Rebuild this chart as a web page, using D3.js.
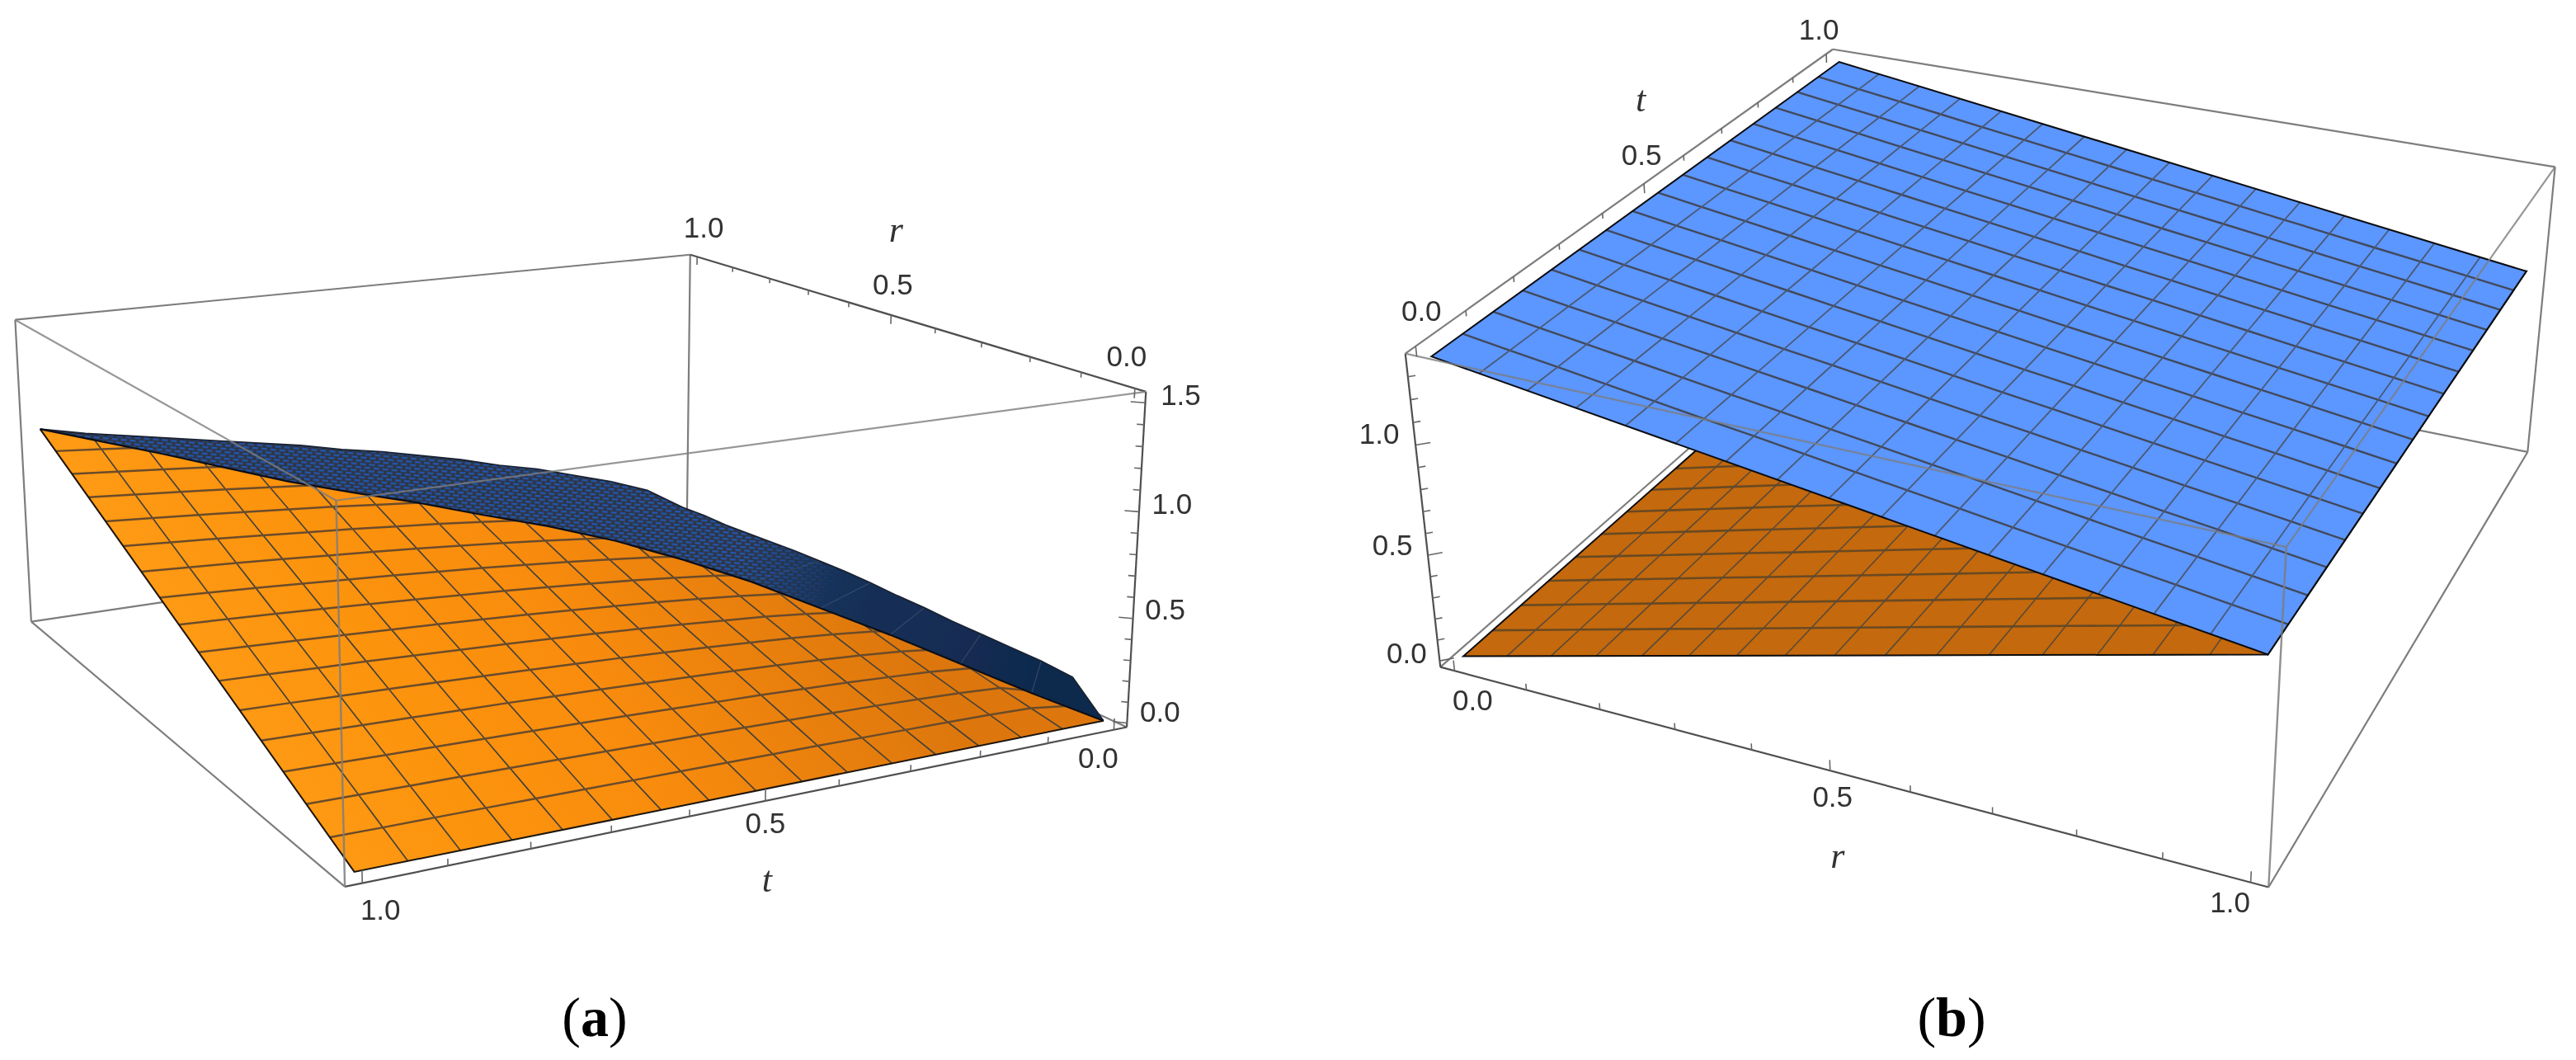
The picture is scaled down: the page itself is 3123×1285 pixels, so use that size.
<!DOCTYPE html>
<html><head><meta charset="utf-8">
<script src="https://cdnjs.cloudflare.com/ajax/libs/d3/7.8.5/d3.min.js"></script>
<style>html,body{margin:0;background:#fff}svg{display:block}</style></head>
<body><svg id="c" width="3123" height="1285"></svg>
<script>
const gridIdx=d3.range(17);
const gridVals=[0,.0625,.125,.1875,.25,.3125,.375,.4375,.5,.5625,.625,.6875,.75,.8125,.875,.9375,1];
const tickVals=[0,.1,.2,.3,.4,.5,.6,.7,.8,.9,1];
const zTicksA=[0,.1,.2,.3,.4,.5,.6,.7,.8,.9,1,1.1,1.2,1.3,1.4,1.5];
const zTicksB=[0,.1,.2,.3,.4,.5,.6,.7,.8,.9,1,1.1,1.2,1.3];
// panel (a): height where the two surfaces meet, on t = r
const contactA=[0,.10,.21,.32,.42,.52,.60,.665,.71,.74,.775,.80,.83,.875,.92,.96,1];
// panel (a): far edges of the dark surface
const edgeR1A=[.11,.24,.32,.385,.45,.50,.56,.61,.66,.70,.75,.79,.83,.87,.91,.95,1];
const edgeT0A=[0,.14,.15,.15,.15,.15,.155,.155,.16,.16,.155,.15,.14,.13,.12,.12,.11];
// panel (a): orange surface, rows by t, columns by r
const orangeA=[
[0,0,0,0,0,0,0,0,0,0,0,0,0,0,0,0,0],
[0,.027,.054,.082,.109,.136,.163,.19,.218,.245,.272,.299,.326,.353,.381,.408,.435],
[0,.034,.067,.101,.134,.168,.201,.235,.268,.302,.335,.369,.402,.436,.469,.503,.536],
[0,.038,.076,.113,.151,.189,.227,.265,.303,.34,.378,.416,.454,.492,.529,.567,.605],
[0,.041,.083,.124,.165,.206,.248,.289,.33,.371,.413,.454,.495,.536,.578,.619,.66],
[0,.044,.088,.132,.176,.22,.264,.308,.353,.397,.441,.485,.529,.573,.617,.661,.705],
[0,.047,.093,.14,.186,.233,.279,.326,.373,.419,.466,.512,.559,.605,.652,.698,.745],
[0,.049,.098,.146,.195,.244,.293,.341,.39,.439,.488,.536,.585,.634,.683,.731,.78],
[0,.051,.102,.152,.203,.254,.305,.355,.406,.457,.508,.558,.609,.66,.711,.761,.812],
[0,.053,.105,.158,.211,.263,.316,.368,.421,.474,.526,.579,.632,.684,.737,.789,.842],
[0,.054,.109,.163,.217,.271,.326,.38,.434,.488,.543,.597,.651,.705,.76,.814,.868],
[0,.056,.112,.168,.224,.279,.335,.391,.447,.503,.559,.615,.671,.726,.782,.838,.894],
[0,.057,.115,.172,.229,.287,.344,.401,.459,.516,.573,.63,.688,.745,.802,.86,.917],
[0,.059,.118,.176,.235,.294,.353,.411,.47,.529,.588,.646,.705,.764,.823,.881,.94],
[0,.06,.12,.18,.24,.3,.36,.42,.481,.541,.601,.661,.721,.781,.841,.901,.961],
[0,.061,.123,.184,.245,.307,.368,.429,.491,.552,.613,.674,.736,.797,.858,.92,.981],
[0,.063,.125,.188,.25,.313,.375,.438,.5,.563,.625,.688,.75,.813,.875,.938,1]];
// panel (b): both surfaces are flat in t, heights by r
const planeB=[1.37,1.341,1.313,1.284,1.255,1.226,1.198,1.169,1.14,1.111,1.083,1.054,1.025,.996,.968,.939,.91];
const brownB=[0,.057,.114,.171,.228,.284,.341,.398,.455,.512,.569,.626,.683,.739,.796,.853,.91];
// box corners as seen in the picture: box r, t, z (0..1) -> pixel, used to fit the camera
const cornersA=[[1,1,1,18,388],[1,0,1,837,309],[0,0,1,1389,474],[0,1,1,408,607],[1,1,0,38,753],[0,0,0,1366,882],[0,1,0,418,1075]];
const cornersB=[[0,0,1,1704,428],[0,1,1,2222,60],[1,1,1,3098,202],[1,0,1,2771,664],[0,0,0,1746,809],[1,0,0,2751,1075],[1,1,0,3064,548]];

function solve(corners){
  const rows=[],b=[];
  corners.forEach(([X,Y,Z,u0,v0])=>{const u=u0/1000,v=v0/1000;
    rows.push([X,Y,Z,1,0,0,0,0,-u*X,-u*Y,-u*Z]);b.push(u);
    rows.push([0,0,0,0,X,Y,Z,1,-v*X,-v*Y,-v*Z]);b.push(v);});
  const n=11,M=d3.range(n).map(i=>d3.range(n+1).map(j=>j<n?d3.sum(rows,(r)=>r[i]*r[j]):d3.sum(rows,(r,k)=>r[i]*b[k])));
  for(let c=0;c<n;c++){let p=c;for(let k=c+1;k<n;k++)if(Math.abs(M[k][c])>Math.abs(M[p][c]))p=k;
    [M[c],M[p]]=[M[p],M[c]];
    for(let k=0;k<n;k++)if(k!==c){const f=M[k][c]/M[c][c];for(let j=c;j<=n;j++)M[k][j]-=f*M[c][j];}}
  return M.map((r,i)=>r[n]/r[i]);
}
function camera(corners,zDom){
  const p=solve(corners),rS=d3.scaleLinear([-.02,1.02],[0,1]),tS=d3.scaleLinear([-.02,1.02],[0,1]),zS=d3.scaleLinear(zDom,[0,1]);
  return (r,t,z)=>{const X=rS(r),Y=tS(t),Z=zS(z),w=p[8]*X+p[9]*Y+p[10]*Z+1;
    return [1000*(p[0]*X+p[1]*Y+p[2]*Z+p[3])/w,1000*(p[4]*X+p[5]*Y+p[6]*Z+p[7])/w];};
}
const svg=d3.select('#c');
const defs=svg.append('defs');
defs.append('filter').attr('id','soft').attr('x','-5%').attr('y','-5%').attr('width','110%').attr('height','110%').append('feGaussianBlur').attr('stdDeviation',.7);
function grad(id,x1,y1,x2,y2,stops){const g=defs.append('linearGradient').attr('id',id).attr('gradientUnits','userSpaceOnUse').attr('x1',x1).attr('y1',y1).attr('x2',x2).attr('y2',y2);
  stops.forEach(([o,c])=>g.append('stop').attr('offset',o).attr('stop-color',c));}
grad('orange',350,1050,1020,650,[[0,'#ff9b12'],[.55,'#f98c10'],[1,'#dd7709']]);
grad('navy',300,500,1300,800,[[0,'#2a4674'],[.5,'#24406e'],[.72,'#153058'],[1,'#10294d']]);
grad('fade',300,500,1300,800,[[0,'#fff'],[.6,'#fff'],[.72,'#000'],[1,'#000']]);
const pat=defs.append('pattern').attr('id','speck').attr('patternUnits','userSpaceOnUse').attr('width',11).attr('height',8).attr('patternTransform','rotate(5)');
pat.append('rect').attr('width',11).attr('height',8).attr('fill','#2d3644');
pat.append('rect').attr('x',0).attr('y',1).attr('width',7).attr('height',2.4).attr('fill','#2455ae');
pat.append('rect').attr('x',5.5).attr('y',5).attr('width',7).attr('height',2.4).attr('fill','#2455ae');
pat.append('rect').attr('x',-5.5).attr('y',5).attr('width',7).attr('height',2.4).attr('fill','#2455ae');
defs.append('mask').attr('id','fadeMask').attr('maskUnits','userSpaceOnUse').attr('x',0).attr('y',0).attr('width',1600).attr('height',1285).append('rect').attr('width',1600).attr('height',1285).attr('fill','url(#fade)');

const line=d3.line(),poly=pts=>line(pts)+'Z';
const boxGray='#7d7d7d',axisGray='#4f4f4f';
function seg(g,P,a,b,col,w,op){const pa=P(...a),pb=P(...b);g.append('path').attr('d',line([pa,pb])).attr('fill','none').attr('stroke',col).attr('stroke-width',w).attr('opacity',op||1);}
function label(g,p,off,txt,opts={}){g.append('text').attr('x',p[0]+off[0]).attr('y',p[1]+off[1]).attr('text-anchor','middle').attr('dominant-baseline','central')
  .attr('font-family',opts.family||'Liberation Sans').attr('font-style',opts.style||'normal').attr('font-size',opts.size||35).attr('fill','#333').text(txt);}
function ticks(g,P,vals,fn,majors){vals.forEach(v=>{const m=majors.some(q=>Math.abs(q-v)<1e-9);const [a,b]=fn(v,m);
  g.append('path').attr('d',line([P(...a),P(...b)])).attr('stroke','#666').attr('stroke-width',1.6).attr('fill','none');});}

// ---------- panel a
(function(){
  const P=camera(cornersA,[-.02,1.55]),g=svg.append('g').attr('filter','url(#soft)');
  const L=-.02,H=1.02,zl=-.02,zh=1.55;
  seg(g,P,[H,L,zh],[H,L,zl],boxGray,2.2);
  seg(g,P,[H,H,zl],[H,L,zl],boxGray,2.2);
  seg(g,P,[H,L,zl],[L,L,zl],boxGray,2.2);
  const contact=gridIdx.map(i=>P(gridVals[i],gridVals[i],contactA[i]));
  // orange, clipped at the contact curve
  const op=(i,j)=>P(gridVals[j],gridVals[i],orangeA[i][j]);
  const clipPts=[...contact,op(16,0)];
  defs.append('clipPath').attr('id','oClip').append('path').attr('d',poly(clipPts));
  const og=g.append('g').attr('clip-path','url(#oClip)');
  const cellsO=[];
  for(let i=0;i<16;i++)for(let j=0;j<16;j++)cellsO.push([op(i,j),op(i,j+1),op(i+1,j+1),op(i+1,j)]);
  og.append('g').selectAll('path').data(cellsO).join('path').attr('d',poly).attr('fill','url(#orange)').attr('stroke','url(#orange)').attr('stroke-width',.8);
  gridIdx.slice(1,16).forEach(i=>og.append('path').attr('d',line(gridIdx.map(j=>op(i,j)))).attr('fill','none').attr('stroke','#4a4238').attr('stroke-width',1.7));
  gridIdx.slice(1,16).forEach(j=>og.append('path').attr('d',line(gridIdx.map(i=>op(i,j)))).attr('fill','none').attr('stroke','#6b4c2a').attr('stroke-width',2.5));
  g.append('path').attr('d',line([op(16,16),op(16,0),op(0,0)])).attr('fill','none').attr('stroke','#1c130a').attr('stroke-width',2);
  // blue
  const outer=[...gridIdx.slice().reverse().map(i=>P(1,gridVals[i],edgeR1A[i])),...gridIdx.slice(0,16).reverse().map(j=>P(gridVals[j],0,edgeT0A[j]))];
  const blueOutline=[...outer,...contact];
  g.append('path').attr('d',poly(blueOutline)).attr('fill','url(#navy)');
  const rungs=g.append('g').attr('fill','none').attr('stroke','#4a5a74').attr('stroke-width',1.1).attr('opacity',.65);
  gridIdx.forEach(i=>rungs.append('path').attr('d',line([contact[i],outer[32-2*i]])));
  g.append('path').attr('d',poly(blueOutline)).attr('fill','url(#speck)').attr('mask','url(#fadeMask)');
  g.append('path').attr('d',line(outer)).attr('fill','none').attr('stroke','#1a2233').attr('stroke-width',1.8);
  g.append('path').attr('d',line(contact)).attr('fill','none').attr('stroke','#0c1018').attr('stroke-width',2.2);
  // box over
  seg(g,P,[H,H,zh],[H,L,zh],boxGray,2.2);
  seg(g,P,[H,L,zh],[L,L,zh],axisGray,2.2);
  seg(g,P,[H,H,zh],[H,H,zl],boxGray,2.2);
  seg(g,P,[H,H,zl],[L,H,zl],boxGray,2.2);
  seg(g,P,[L,H,zl],[L,L,zl],axisGray,2.2);
  seg(g,P,[L,L,zl],[L,L,zh],axisGray,2.2);
  seg(g,P,[H,H,zh],[L,H,zh],boxGray,2.2,.8);
  seg(g,P,[L,H,zh],[L,L,zh],boxGray,2.2,.8);
  seg(g,P,[L,H,zh],[L,H,zl],boxGray,2.4,.85);
  ticks(g,P,tickVals,(v,m)=>[[v,L,zh],[v,L,zh-(m?.045:.025)]],[0,.5,1]);
  ticks(g,P,tickVals,(v,m)=>[[L,v,zl],[L,v,zl+(m?.055:.03)]],[0,.5,1]);
  ticks(g,P,zTicksA,(v,m)=>[[L,L,v],[L+(m?.012:.006),L+(m?.012:.006),v]],[0,.5,1,1.5]);
  [[0,[-10,-39],'0.0'],[.5,[2,-37],'0.5'],[1,[8,-36],'1.0']].forEach(([v,o,s])=>label(g,P(v,L,zh),o,s));
  [[0,[-19,34],'0.0'],[.5,[0,27],'0.5'],[1,[22,32],'1.0']].forEach(([v,o,s])=>label(g,P(L,v,zl),o,s));
  [[0,[40,-14],'0.0'],[.5,[39,-11],'0.5'],[1,[40,-10],'1.0'],[1.5,[43,-10],'1.5']].forEach(([v,o,s])=>label(g,P(L,L,v),o,s));
  label(g,P(.5,L,zh),[6,-103],'r',{family:'Liberation Serif',style:'italic',size:44});
  label(g,P(L,.5,zl),[2,96],'t',{family:'Liberation Serif',style:'italic',size:44});
})();
// ---------- panel b
(function(){
  const P=camera(cornersB,[-.03,1.4]),g=svg.append('g').attr('filter','url(#soft)');
  const L=-.02,H=1.02,zl=-.03,zh=1.4;
  seg(g,P,[L,L,zl],[L,H,zl],boxGray,2.2);
  seg(g,P,[L,H,zl],[H,H,zl],boxGray,2.2);
  function surf(zs,fill,thick,thin,w1,w2){
    const p=(i,j)=>P(gridVals[j],gridVals[i],zs[j]);const cells=[];
    for(let i=0;i<16;i++)for(let j=0;j<16;j++)cells.push([p(i,j),p(i,j+1),p(i+1,j+1),p(i+1,j)]);
    g.append('g').selectAll('path').data(cells).join('path').attr('d',poly).attr('fill',fill).attr('stroke',fill).attr('stroke-width',.8);
    const m=g.append('g').attr('fill','none');
    gridIdx.slice(1,16).forEach(i=>m.append('path').attr('d',line(gridIdx.map(j=>p(i,j)))).attr('stroke',thick).attr('stroke-width',w1));
    gridIdx.slice(1,16).forEach(j=>m.append('path').attr('d',line(gridIdx.map(i=>p(i,j)))).attr('stroke',thin).attr('stroke-width',w2));
    g.append('path').attr('d',poly([p(0,0),p(0,16),p(16,16),p(16,0)])).attr('fill','none').attr('stroke','#0a0a10').attr('stroke-width',2);
  }
  surf(brownB,'#c4690a','#6a4a24','#5a4a38',2.6,1.6);
  surf(planeB,'#5b96ff','#424a5c','#4c5a74',2.4,1.8);
  seg(g,P,[L,L,zh],[L,H,zh],boxGray,2.2);
  seg(g,P,[L,H,zh],[H,H,zh],boxGray,2.2);
  seg(g,P,[L,L,zh],[L,L,zl],axisGray,2.2);
  seg(g,P,[L,L,zl],[H,L,zl],axisGray,2.2);
  seg(g,P,[H,L,zl],[H,H,zl],boxGray,2.2);
  seg(g,P,[H,H,zl],[H,H,zh],boxGray,2.2);
  seg(g,P,[L,L,zh],[H,L,zh],boxGray,2.2,.8);
  seg(g,P,[H,L,zh],[H,H,zh],boxGray,2.2,.8);
  seg(g,P,[H,L,zh],[H,L,zl],boxGray,2.4,.85);
  ticks(g,P,tickVals,(v,m)=>[[L,v,zh],[L,v,zh-(m?.045:.025)]],[0,.5,1]);
  ticks(g,P,tickVals,(v,m)=>[[v,L,zl],[v,L,zl+(m?.05:.03)]],[0,.5,1]);
  ticks(g,P,zTicksB,(v,m)=>[[L,L,v],[L+(m?.012:.006),L+(m?.012:.006),v]],[0,.5,1]);
  [[0,[7,-43],'0.0'],[.5,[-3,-35],'0.5'],[1,[-9,-30],'1.0']].forEach(([v,o,s])=>label(g,P(L,v,zh),o,s));
  [[0,[22,35],'0.0'],[.5,[3,31],'0.5'],[1,[-25,24],'1.0']].forEach(([v,o,s])=>label(g,P(v,L,zl),o,s));
  [[0,[-40,-10],'0.0'],[.5,[-43,-13],'0.5'],[1,[-44,-14],'1.0']].forEach(([v,o,s])=>label(g,P(L,L,v),o,s));
  label(g,P(L,.5,zh),[-4,-102],'t',{family:'Liberation Serif',style:'italic',size:44});
  label(g,P(.5,L,zl),[9,103],'r',{family:'Liberation Serif',style:'italic',size:44});
})();
// captions
[['a',721],['b',2366]].forEach(([c,x])=>{const t=svg.append('text').attr('x',x).attr('y',1256).attr('text-anchor','middle').attr('font-family','Liberation Serif').attr('font-size',68).attr('fill','#000');
  t.append('tspan').text('(');t.append('tspan').attr('font-weight','bold').text(c);t.append('tspan').text(')');});
</script></body></html>
